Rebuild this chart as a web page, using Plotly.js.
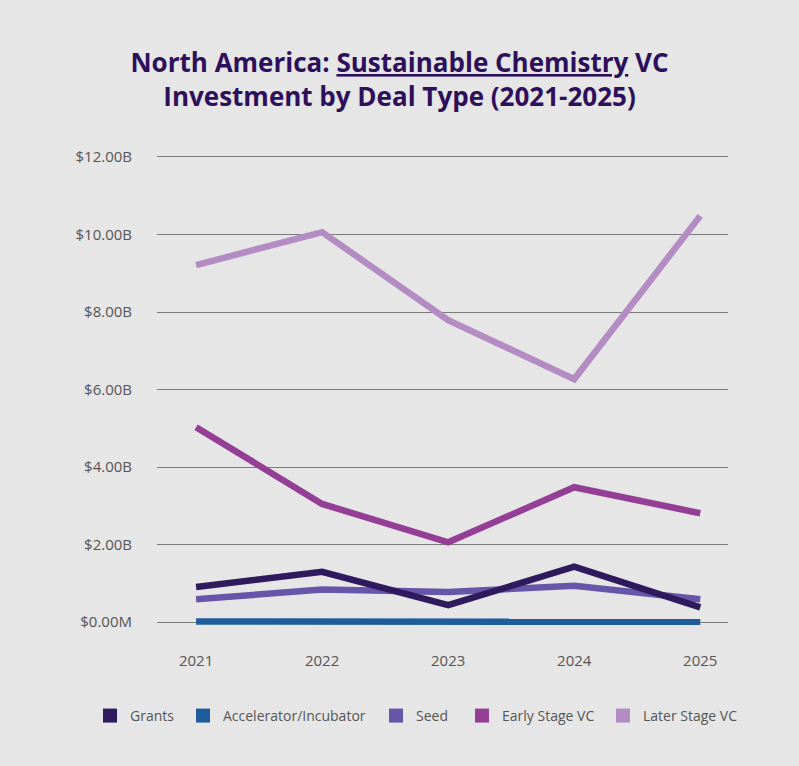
<!DOCTYPE html>
<html><head><meta charset="utf-8">
<script src="https://cdn.plot.ly/plotly-3.0.1.min.js"></script>
<style>html,body{margin:0;padding:0;background:#e6e6e6;}#chart{width:799px;height:766px;}</style>
</head><body><div id="chart"></div>
<script>
const years = [2021, 2022, 2023, 2024, 2025];
const grants = [0.91, 1.30, 0.44, 1.43, 0.38];
const accelerator = [0.02, 0.02, 0.03, 0.02, 0.01];
const seed = [0.59, 0.84, 0.78, 0.94, 0.59];
const earlyStage = [5.03, 3.05, 2.06, 3.48, 2.81];
const laterStage = [9.21, 10.06, 7.79, 6.27, 10.48];
const seriesNames = ['Grants', 'Accelerator/Incubator', 'Seed', 'Early Stage VC', 'Later Stage VC'];
const seriesColors = ['#2e1a5c', '#1f5c9c', '#6655a8', '#943e96', '#b48cc4'];
const yTickVals = [0, 2, 4, 6, 8, 10, 12];
const yTickText = ['$0.00M', '$2.00B', '$4.00B', '$6.00B', '$8.00B', '$10.00B', '$12.00B'];

const seriesData = [grants, accelerator, seed, earlyStage, laterStage];
const drawOrder = [4, 3, 2, 1, 0];
const legendIds = ['legend', 'legend2', 'legend3', 'legend4', 'legend5'];
const legendX = [-0.1173, 0.0455, 0.3835, 0.5342, 0.7811];
const traces = [];
drawOrder.forEach(i => {
  traces.push({
    x: years, y: seriesData[i], type: 'scatter', mode: 'lines', cliponaxis: false,
    line: {color: seriesColors[i], width: 6.5}, showlegend: false, name: seriesNames[i], hoverinfo: 'skip'
  });
});
seriesNames.forEach((n, i) => {
  traces.push({
    x: [null], y: [null], type: 'scatter', mode: 'markers', name: n, legend: legendIds[i],
    marker: {symbol: 'square', size: 14, color: seriesColors[i]}
  });
});

const layout = {
  width: 799, height: 766,
  paper_bgcolor: '#e6e6e6', plot_bgcolor: '#e6e6e6',
  font: {family: 'Open Sans, sans-serif', color: '#555555', size: 14},
  title: {
    text: '<b>North America: <u>Sustainable Chemistry</u> VC<br>Investment by Deal Type (2021-2025)</b>',
    font: {family: 'Open Sans, sans-serif', size: 26, color: '#2d0f5c'},
    x: 0.5, xanchor: 'center', y: 0.906, yanchor: 'middle'
  },
  margin: {l: 157, r: 71, t: 155, b: 138},
  xaxis: {
    range: [2020.69, 2025.22], tickvals: years, ticktext: years.map(String),
    showgrid: false, zeroline: false, showline: false, ticks: '',
    tickfont: {size: 15, color: '#555555'}, ticklabelstandoff: 22, fixedrange: true
  },
  yaxis: {
    range: [-0.15, 12.05], tickvals: yTickVals, ticktext: yTickText,
    showgrid: true, gridcolor: '#7a7a7a', gridwidth: 1, zeroline: false, showline: false, ticks: '',
    tickfont: {size: 15, color: '#555555'}, ticklabelstandoff: 24, fixedrange: true
  },
  showlegend: true
};
legendIds.forEach((id, i) => {
  layout[id] = {
    orientation: 'h', x: legendX[i], xanchor: 'left', y: -0.186, yanchor: 'middle',
    font: {size: 14, color: '#555555'}, itemwidth: 30, bgcolor: 'rgba(0,0,0,0)'
  };
});
Plotly.newPlot('chart', traces, layout, {displayModeBar: false, staticPlot: true});
</script></body></html>
